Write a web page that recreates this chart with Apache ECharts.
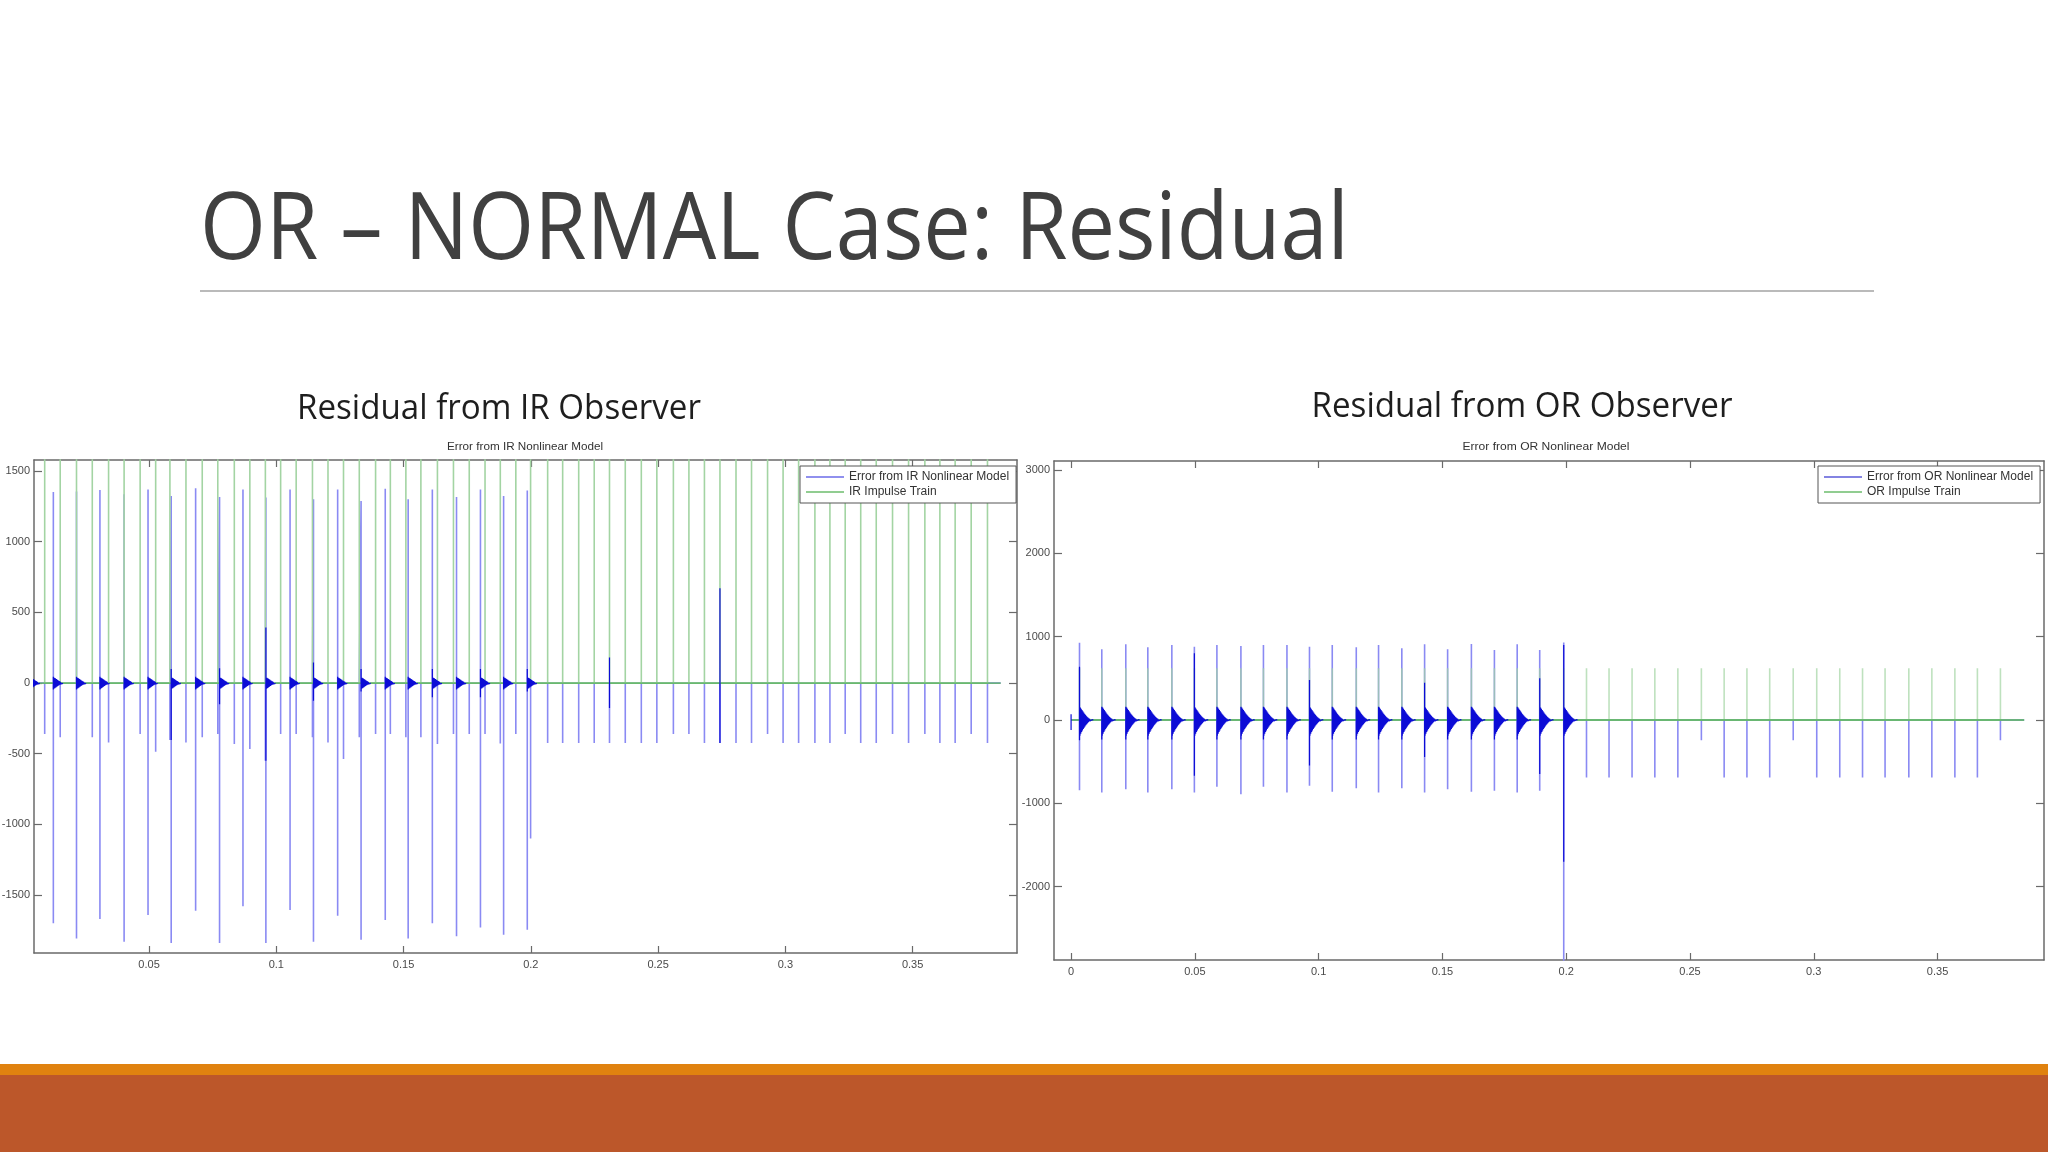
<!DOCTYPE html>
<html><head><meta charset="utf-8">
<script src="https://cdn.jsdelivr.net/npm/echarts@6/dist/echarts.min.js"></script>
<style>html,body{margin:0;padding:0;background:#fff}#c{width:2048px;height:1152px}</style>
</head><body><div id="c"></div>
<script>
// ---------- texts ----------
const slideTitle = 'OR – NORMAL Case: Residual';
const subTitleIR = 'Residual from IR Observer';
const subTitleOR = 'Residual from OR Observer';
const chartTitleIR = 'Error from IR Nonlinear Model';
const chartTitleOR = 'Error from OR Nonlinear Model';
const namesIR = ['Error from IR Nonlinear Model', 'IR Impulse Train'];
const namesOR = ['Error from OR Nonlinear Model', 'OR Impulse Train'];

// ---------- tick labels ----------
const xTicksIR = [0.05, 0.1, 0.15, 0.2, 0.25, 0.3, 0.35];
const yTicksIR = [-1500, -1000, -500, 0, 500, 1000, 1500];
const xTicksOR = [0, 0.05, 0.1, 0.15, 0.2, 0.25, 0.3, 0.35];
const yTicksOR = [-2000, -1000, 0, 1000, 2000, 3000];
const xRangeIR = [0.0048, 0.391];
const yRangeIR = [-1910, 1578];
const xRangeOR = [-0.0069, 0.393];
const yRangeOR = [-2880, 3108];

// ---------- IR observer (left) ----------
const irTrainTimes = [0.0090, 0.0151, 0.0215, 0.0277, 0.0341, 0.0402, 0.0465, 0.0526, 0.0582, 0.0645, 0.0709, 0.0770, 0.0835, 0.0896, 0.0957, 0.1017, 0.1078, 0.1142, 0.1203, 0.1264, 0.1326, 0.1390, 0.1448, 0.1509, 0.1568, 0.1633, 0.1696, 0.1758, 0.1820, 0.1880, 0.1941, 0.1999,
  0.2066, 0.2125, 0.2188, 0.2249, 0.2309, 0.2371, 0.2434, 0.2495, 0.2560, 0.2621, 0.2682, 0.2743, 0.2806, 0.2867, 0.2930, 0.2991, 0.3052, 0.3116, 0.3175, 0.3235, 0.3296, 0.3357, 0.3421, 0.3484, 0.3548, 0.3607, 0.3667, 0.3730, 0.3794];
const irTrainLevel = 2000;
const irTrainNeg = [-361, -384, -380, -384, -420, -361, -361, -486, -403, -420, -384, -361, -432, -467, -550, -361, -361, -384, -420, -538, -384, -361, -361, -384, -384, -432, -361, -361, -361, -427, -361, -1100,
  -425, -425, -425, -425, -425, -425, -425, -425, -361, -361, -425, -425, -425, -425, -361, -425, -425, -425, -425, -361, -425, -425, -361, -425, -361, -425, -425, -361, -425];
const irBurstTimes = [0.0033, 0.0124, 0.0215, 0.0307, 0.0402, 0.0496, 0.0587, 0.0683, 0.0777, 0.0869, 0.0959, 0.1054, 0.1146, 0.1241, 0.1333, 0.1428, 0.1518, 0.1613, 0.1708, 0.1802, 0.1893, 0.1986];
const irBurstPos = [1350, 1352, 1356, 1366, 1335, 1370, 1323, 1378, 1316, 1370, 1312, 1370, 1300, 1370, 1288, 1375, 1300, 1370, 1316, 1370, 1323, 1363];
const irBurstNeg = [-1700, -1700, -1807, -1670, -1830, -1642, -1840, -1611, -1840, -1580, -1840, -1606, -1830, -1646, -1816, -1677, -1807, -1700, -1792, -1729, -1781, -1745];
const irDarkPos = [45, 45, 45, 45, 45, 45, 99, 45, 104, 45, 393, 45, 146, 45, 99, 45, 45, 99, 45, 99, 45, 99];
const irDarkNeg = [-45, -45, -45, -45, -45, -45, -403, -45, -150, -45, -550, -45, -125, -45, -60, -45, -45, -100, -45, -100, -45, -60];
const irExtraTimes = [0.2309, 0.2743];
const irExtraPos = [180, 670];
const irExtraNeg = [-177, -425];
const irLineEnd = 0.3846;
const ringStepIR = 0.0002;
const ringLevelsIR = [42, -40, 38, -36, 33, -31, 28, -26, 23, -21, 18, -16, 13, -11, 9, -7, 5, -4, 3, -2, 0];

// ---------- OR observer (right) ----------
const orTrainTimes = [0.0034, 0.0124, 0.0221, 0.0310, 0.0407, 0.0498, 0.0589, 0.0686, 0.0777, 0.0872, 0.0963, 0.1055, 0.1152, 0.1242, 0.1336, 0.1428, 0.1521, 0.1617, 0.1710, 0.1802, 0.1893, 0.1990,
  0.2082, 0.2173, 0.2266, 0.2358, 0.2451, 0.2546, 0.2638, 0.2730, 0.2822, 0.2917, 0.3012, 0.3105, 0.3197, 0.3288, 0.3384, 0.3477, 0.3570, 0.3661, 0.3754];
const orTrainLevel = 620;
const orBurstTimes = [0.0034, 0.0124, 0.0221, 0.0310, 0.0407, 0.0498, 0.0589, 0.0686, 0.0777, 0.0872, 0.0963, 0.1055, 0.1152, 0.1242, 0.1336, 0.1428, 0.1521, 0.1617, 0.1710, 0.1802, 0.1893, 0.1990];
const orBurstPos = [928, 848, 908, 872, 900, 880, 900, 888, 900, 900, 880, 900, 872, 900, 860, 908, 848, 912, 840, 908, 840, 930];
const orBurstNeg = [-842, -870, -830, -870, -830, -870, -802, -890, -802, -870, -789, -862, -818, -870, -818, -870, -830, -862, -850, -870, -850, -3000];
const orDarkPos = [640, 160, 160, 160, 160, 800, 160, 160, 160, 160, 480, 160, 160, 160, 160, 448, 160, 160, 160, 160, 500, 900];
const orDarkNeg = [-243, -235, -235, -235, -235, -668, -235, -235, -235, -235, -547, -235, -235, -235, -235, -445, -235, -235, -235, -235, -648, -1700];
const orAfterTimes = [0.2082, 0.2173, 0.2266, 0.2358, 0.2451, 0.2546, 0.2638, 0.2730, 0.2822, 0.2917, 0.3012, 0.3105, 0.3197, 0.3288, 0.3384, 0.3477, 0.3570, 0.3661, 0.3754];
const orAfterNeg = [-690, -690, -690, -690, -690, -243, -690, -690, -690, -243, -690, -690, -690, -690, -690, -690, -690, -690, -243];
const orExtraTimes = [0.0];
const orExtraPos = [70];
const orExtraNeg = [-120];
const orLineStart = 0.0;
const orLineEnd = 0.385;
const ringStepOR = 0.00017;
const ringLevelsOR = [160, -190, 150, -165, 135, -145, 120, -125, 105, -108, 90, -92, 76, -78, 64, -64, 52, -50, 40, -38, 30, -27, 21, -18, 14, -11, 9, -7, 6, -5, 4, -3, 2, 0];

// ---------- builders ----------
function spikePath(events, start, end) {
  events.sort((a, b) => a[0] - b[0]);
  const pts = [];
  if (start != null) pts.push([start, 0]);
  events.forEach(([t, vals]) => {
    pts.push([t, 0]);
    vals.forEach(v => pts.push([t, v]));
    pts.push([t, 0]);
  });
  if (end != null) pts.push([end, 0]);
  return pts;
}
function burstPath(times, pos, neg, step, levels) {
  const pts = [];
  times.forEach((t, i) => {
    pts.push([t, 0], [t, pos[i]], [t, neg[i]], [t, 0]);
    levels.forEach((v, j) => pts.push([t + j * step, v]));
    pts.push([t + levels.length * step, '-']);
  });
  return pts;
}
function segPath(times, pos, neg) {
  const pts = [];
  times.forEach((t, i) => pts.push([t, pos[i]], [t, neg[i]], [t, '-']));
  return pts;
}

// IR series data
const irBlueEvents = [];
irBurstTimes.forEach((t, i) => irBlueEvents.push([t, [irBurstPos[i], irBurstNeg[i]]]));
irTrainTimes.forEach((t, i) => irBlueEvents.push([t, [irTrainNeg[i]]]));
const irBlue = spikePath(irBlueEvents, null, irLineEnd);
const irGreen = spikePath(irTrainTimes.map(t => [t, [irTrainLevel]]), null, null);
const irBase = [[irBurstTimes[0], 0], [irLineEnd, 0]];
const irDark = burstPath(irBurstTimes, irDarkPos, irDarkNeg, ringStepIR, ringLevelsIR)
  .concat(segPath(irExtraTimes, irExtraPos, irExtraNeg));

// OR series data
const orBlueEvents = [];
orBurstTimes.forEach((t, i) => orBlueEvents.push([t, [orBurstPos[i], orBurstNeg[i]]]));
orAfterTimes.forEach((t, i) => orBlueEvents.push([t, [orAfterNeg[i]]]));
const orBlue = spikePath(orBlueEvents, orLineStart, orLineEnd);
const orGreen = spikePath(orTrainTimes.map(t => [t, [orTrainLevel]]), null, null);
const orBase = [[orLineStart, 0], [orLineEnd, 0]];
const orDark = burstPath(orBurstTimes, orDarkPos, orDarkNeg, ringStepOR, ringLevelsOR)
  .concat(segPath(orExtraTimes, orExtraPos, orExtraNeg));

// ---------- styling helpers ----------
const AX = '#6a6a6a';
const LBL = {color: '#4a4a4a', fontSize: 11, fontFamily: 'Liberation Sans', formatter: v => String(v)};
function xAx(grid, range, ticks, pos, labels) {
  return {type: 'value', gridIndex: grid, min: range[0], max: range[1], position: pos,
    axisLine: {show: true, onZero: false, lineStyle: {color: AX, width: 1.5}},
    axisTick: {show: true, inside: true, length: 7, customValues: ticks, lineStyle: {color: AX, width: 1.2}},
    axisLabel: Object.assign({show: labels, customValues: ticks, margin: 6}, LBL),
    splitLine: {show: false}};
}
function yAx(grid, range, ticks, pos, labels) {
  return {type: 'value', gridIndex: grid, min: range[0], max: range[1], position: pos,
    axisLine: {show: true, onZero: false, lineStyle: {color: AX, width: 1.5}},
    axisTick: {show: true, inside: true, length: 8, customValues: ticks, lineStyle: {color: AX, width: 1.2}},
    axisLabel: Object.assign({show: labels, customValues: ticks, margin: 4}, LBL),
    splitLine: {show: false}};
}
function line(name, data, xi, yi, color, width, z, opacity) {
  return {type: 'line', name, data, xAxisIndex: xi, yAxisIndex: yi, symbol: 'none', showSymbol: false,
    clip: true, silent: true, animation: false, z,
    lineStyle: {color, width, opacity: opacity == null ? 1 : opacity}, itemStyle: {color}};
}
function fit(text, font, w) {
  const ctx = document.createElement('canvas').getContext('2d');
  ctx.font = font;
  return w / ctx.measureText(text).width;
}
function txt(text, x, y, size, fill, family, align, targetW) {
  const font = size + 'px ' + family;
  const s = targetW ? fit(text, font, targetW) : 1;
  return {type: 'text', x, y, scaleX: s, silent: true, z: 100,
    style: {text, x: 0, y: 0, font, fill, align, verticalAlign: 'middle'}};
}

const BLUE = '#8a8af3', GREEN = '#a3d4a3', GBASE = '#56b456', DARK = '#0c0cd6';
const legendCommon = {orient: 'vertical', icon: 'rect', itemWidth: 38, itemHeight: 1.5, itemGap: 3,
  backgroundColor: '#fff', borderColor: '#555', borderWidth: 1, padding: [5, 7, 5, 6],
  textStyle: {fontSize: 12, color: '#333', fontFamily: 'Liberation Sans'}, selectedMode: false};

const option = {
  animation: false,
  backgroundColor: '#fff',
  grid: [
    {left: 34, top: 460, width: 983, height: 493, outerBoundsMode: 'none'},
    {left: 1054, top: 461, width: 990, height: 499, outerBoundsMode: 'none'}
  ],
  xAxis: [
    xAx(0, xRangeIR, xTicksIR, 'bottom', true), xAx(0, xRangeIR, xTicksIR, 'top', false),
    xAx(1, xRangeOR, xTicksOR, 'bottom', true), xAx(1, xRangeOR, xTicksOR, 'top', false)
  ],
  yAxis: [
    yAx(0, yRangeIR, yTicksIR, 'left', true), yAx(0, yRangeIR, yTicksIR, 'right', false),
    yAx(1, yRangeOR, yTicksOR, 'left', true), yAx(1, yRangeOR, yTicksOR, 'right', false)
  ],
  legend: [
    Object.assign({left: 800, top: 466, data: [{name: namesIR[0], itemStyle: {color: '#6b6be8'}}, {name: namesIR[1], itemStyle: {color: '#6cbc6c'}}]}, legendCommon),
    Object.assign({left: 1818, top: 466, data: [{name: namesOR[0], itemStyle: {color: '#5a5ad8'}}, {name: namesOR[1], itemStyle: {color: '#6cbc6c'}}]}, legendCommon)
  ],
  series: [
    line(namesIR[0], irBlue, 0, 0, BLUE, 1.6, 2),
    line(namesIR[1], irGreen, 0, 0, GREEN, 1.6, 3),
    line('irBase', irBase, 0, 0, GBASE, 1.3, 4),
    line('irRing', irDark, 0, 0, DARK, 1.2, 5),
    line(namesOR[0], orBlue, 2, 2, BLUE, 1.6, 2),
    line(namesOR[1], orGreen, 2, 2, GREEN, 1.6, 3, 0.7),
    line('orBase', orBase, 2, 2, GBASE, 1.3, 4),
    line('orRing', orDark, 2, 2, DARK, 1.2, 5)
  ],
  graphic: [
    txt(slideTitle, 200, 232, 94, '#404040', '"Open Sans"', 'left', 1149),
    {type: 'line', silent: true, shape: {x1: 200, y1: 291, x2: 1874, y2: 291}, style: {stroke: '#a3a3a3', lineWidth: 1.5}},
    txt(subTitleIR, 499, 409, 35, '#1e1e1e', '"Open Sans"', 'center', 404),
    txt(subTitleOR, 1522, 407, 35, '#1e1e1e', '"Open Sans"', 'center', 421),
    txt(chartTitleIR, 525, 447, 11, '#333', '"Liberation Sans"', 'center', 156),
    txt(chartTitleOR, 1546, 447, 11, '#333', '"Liberation Sans"', 'center', 167),
    {type: 'rect', silent: true, shape: {x: 0, y: 1064, width: 2048, height: 11}, style: {fill: '#e0820f'}},
    {type: 'rect', silent: true, shape: {x: 0, y: 1075, width: 2048, height: 77}, style: {fill: '#bc572a'}}
  ]
};
const chart = echarts.init(document.getElementById('c'), null, {width: 2048, height: 1152});
chart.setOption(option);
</script>
</body></html>
